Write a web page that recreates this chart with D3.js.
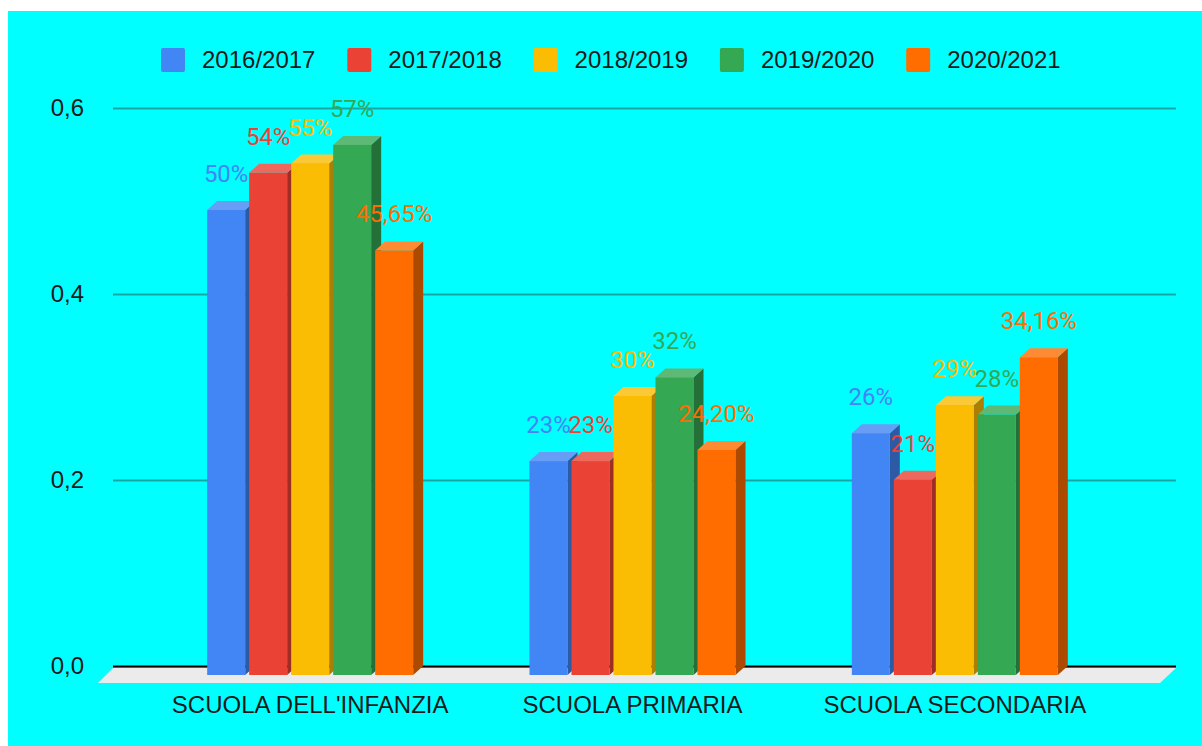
<!DOCTYPE html>
<html>
<head>
<meta charset="utf-8">
<script src="https://cdn.jsdelivr.net/npm/d3@7"></script>
<style>
  body { margin: 0; background: #fff; }
  svg { display: block; }
</style>
</head>
<body>
<svg id="chart" width="1202" height="746"></svg>
<script>
// categorie e serie
var categories = ["SCUOLA DELL'INFANZIA", "SCUOLA PRIMARIA", "SCUOLA SECONDARIA"];
var series = ["2016/2017", "2017/2018", "2018/2019", "2019/2020", "2020/2021"];
var colors = ["#4285F4", "#EA4335", "#FBBC04", "#34A853", "#FF6D01"];

// un array per anno scolastico, nell'ordine delle categorie
var v1617 = [0.50, 0.23, 0.26];
var v1718 = [0.54, 0.23, 0.21];
var v1819 = [0.55, 0.30, 0.29];
var v1920 = [0.57, 0.32, 0.28];
var v2021 = [0.4565, 0.242, 0.3416];
var values = [v1617, v1718, v1819, v1920, v2021];

var yTicks = [0, 0.2, 0.4, 0.6];

var svg = d3.select("#chart");
var depthX = 10, depthY = 9;   // profondita' dell'effetto 3D
var left = 113, right = 1176;
var sans = "'Liberation Sans', Arial, sans-serif";

var it = d3.formatLocale({ decimal: ",", thousands: ".", grouping: [3], currency: ["€", ""] });
var tickFmt = it.format(".1f");
var pct2 = it.format(".2f");
function labelFmt(v) {
  var p = v * 100;
  return Math.abs(Math.round(p) - p) < 1e-6 ? Math.round(p) + "%" : pct2(p) + "%";
}

// sfondo ciano
svg.append("rect")
  .attr("x", 8).attr("y", 11)
  .attr("width", 1202 - 8).attr("height", 746 - 11)
  .attr("fill", "#00FFFF");

var y = d3.scaleLinear().domain([0, 0.6]).range([666, 108]);

var x0 = d3.scaleBand().domain(categories).range([149, 1116]);
var groupW = 206;
var x1 = d3.scaleBand().domain(series).range([0, groupW]).paddingInner(4 / 42);
function groupLeft(c) {
  return x0(c) + (x0.bandwidth() - groupW) / 2;
}

// pavimento grigio
var floorTop = y(0) + 2, floorBot = y(0) + 17;
svg.append("path")
  .attr("d", "M" + left + "," + floorTop + "L" + right + "," + floorTop +
    "L" + (right - 16) + "," + floorBot + "L" + (left - 15) + "," + floorBot + "Z")
  .attr("fill", "#EBEBEB");

// griglia e etichette asse y
var yAxis = svg.append("g")
  .attr("transform", "translate(" + left + ",0)")
  .call(d3.axisLeft(y).tickValues(yTicks).tickSize(-(right - left)).tickPadding(29).tickFormat(tickFmt));
yAxis.select(".domain").remove();
yAxis.selectAll(".tick line")
  .attr("stroke", function (d) { return d === 0 ? "#000" : "#1AA5A5"; })
  .attr("stroke-width", 2);
yAxis.selectAll(".tick text")
  .attr("fill", "#1a1a1a")
  .style("font-family", sans)
  .style("font-size", "24px");

// barre 3D
var bw = x1.bandwidth();
var bars = svg.append("g");
categories.forEach(function (c, ci) {
  series.forEach(function (s, si) {
    var v = values[si][ci];
    var col = colors[si];
    var xf = groupLeft(c) + x1(s);
    var yt = y(v) + depthY, yb = y(0) + depthY;
    var g = bars.append("g");
    // lato destro
    g.append("path")
      .attr("d", "M" + (xf + bw) + "," + yt + "L" + (xf + bw + depthX) + "," + (yt - depthY) +
        "L" + (xf + bw + depthX) + "," + (yb - depthY) + "L" + (xf + bw) + "," + yb + "Z")
      .attr("fill", d3.color(col).darker(1.1));
    // faccia superiore
    g.append("path")
      .attr("d", "M" + xf + "," + yt + "L" + (xf + depthX) + "," + (yt - depthY) +
        "L" + (xf + bw + depthX) + "," + (yt - depthY) + "L" + (xf + bw) + "," + yt + "Z")
      .attr("fill", d3.interpolateRgb(col, "#fff")(0.2));
    // faccia frontale
    g.append("rect")
      .attr("x", xf).attr("y", yt)
      .attr("width", bw).attr("height", yb - yt)
      .attr("fill", col);
  });
});

// etichette dei valori
var labels = svg.append("g")
  .style("font-family", "Roboto, sans-serif")
  .style("font-size", "24px")
  .attr("text-anchor", "middle");
categories.forEach(function (c, ci) {
  series.forEach(function (s, si) {
    var v = values[si][ci];
    labels.append("text")
      .attr("x", groupLeft(c) + x1(s) + bw / 2)
      .attr("y", y(v) - 19)
      .attr("fill", colors[si])
      .text(labelFmt(v));
  });
});

// etichette categorie
svg.append("g").selectAll("text")
  .data(categories)
  .join("text")
  .attr("x", function (d) { return groupLeft(d) + groupW / 2; })
  .attr("y", 713)
  .attr("text-anchor", "middle")
  .attr("fill", "#1a1a1a")
  .style("font-family", sans)
  .style("font-size", "24px")
  .text(function (d) { return d; });

// legenda
var legend = svg.append("g").selectAll("g")
  .data(series)
  .join("g")
  .attr("transform", function (d, i) { return "translate(" + (161 + i * 186.3) + ",48)"; });
legend.append("rect")
  .attr("width", 24).attr("height", 24).attr("rx", 2)
  .attr("fill", function (d, i) { return colors[i]; });
legend.append("text")
  .attr("x", 41).attr("y", 20)
  .attr("fill", "#1a1a1a")
  .style("font-family", sans)
  .style("font-size", "24px")
  .text(function (d) { return d; });
</script>
</body>
</html>
